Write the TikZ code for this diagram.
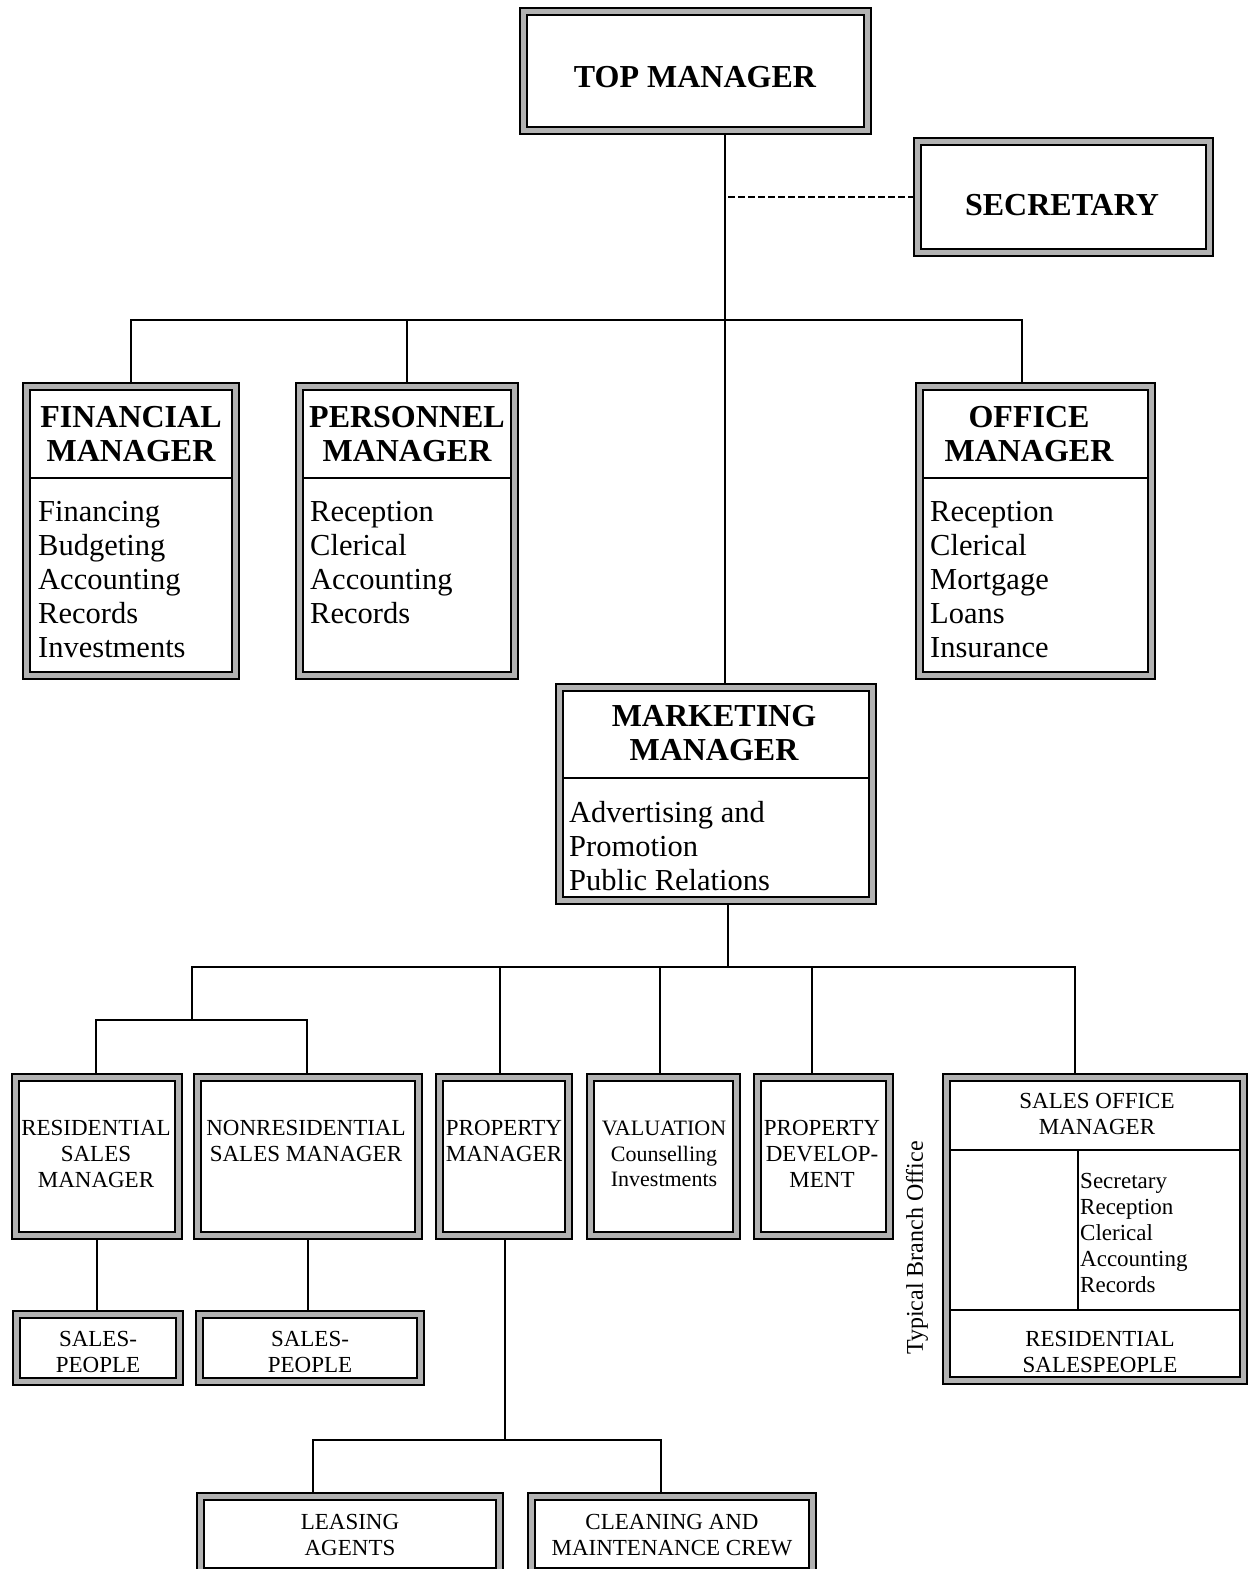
\documentclass[tikz,border=0pt]{standalone}
\usepackage{fontspec}
\setmainfont{Liberation Serif}
\usetikzlibrary{backgrounds}

% font sizes (1pt of the picture is one pixel)
\newcommand\hdfont{\fontsize{32}{34}\selectfont\bfseries}
\newcommand\bdfont{\fontsize{30.5}{34}\selectfont}
\newcommand\smfont{\fontsize{23}{25.8}\selectfont}

% framed box given by its outer corners: name, x1, y1, x2, y2
\newcommand\orgbox[5]{%
  \node[frame, minimum width={(#4-#2-9.1)*1pt}, minimum height={(#5-#3-9.1)*1pt}]
    (#1) at ({(#2+#4)/2},{(#3+#5)/2}) {};}

\tikzset{
  frame/.style={draw=black, line width=1.8pt, double=gray!60, double distance=5.5pt,
                fill=white, inner sep=0pt, outer sep=0pt},
  hd/.style={font=\hdfont, align=center, inner sep=0pt},
  bd/.style={font=\bdfont, align=left, inner sep=0pt, anchor=west},
  sm/.style={font=\smfont, align=center, inner sep=0pt},
  conn/.style={line width=1.8pt, line cap=rect},
  dashline/.style={line width=1.4pt, dash pattern=on 7pt off 3pt},
  divider/.style={line width=1.8pt, shorten <=4.5pt, shorten >=4.5pt},
}

\begin{document}
\begin{tikzpicture}[x=1pt,y=-1pt]
\useasboundingbox (0,0) rectangle (1250,1569);
\clip (0,0) rectangle (1250,1569);
\begin{scope}[on background layer]
  \fill[white] (0,0) rectangle (1250,1569);
\end{scope}

% frames
\orgbox{top}{519}{7}{872}{135}
\orgbox{sec}{913}{137}{1214}{257}
\orgbox{fin}{22}{382}{240}{680}
\orgbox{per}{295}{382}{519}{680}
\orgbox{off}{915}{382}{1156}{680}
\orgbox{mkt}{555}{683}{877}{905}
\orgbox{rsm}{11}{1073}{183}{1240}
\orgbox{nsm}{193}{1073}{423}{1240}
\orgbox{pmg}{435}{1073}{573}{1240}
\orgbox{val}{586}{1073}{741}{1240}
\orgbox{dev}{753}{1073}{894}{1240}
\orgbox{sof}{942}{1073}{1248}{1385}
\orgbox{sp1}{12}{1310}{184}{1386}
\orgbox{sp2}{195}{1310}{425}{1386}
\orgbox{lea}{196}{1492}{504}{1576}
\orgbox{cle}{527}{1492}{817}{1576}

% dividers inside the frames
\coordinate (hf) at (0,478);
\coordinate (hm) at (0,778);
\coordinate (hs1) at (0,1150);
\coordinate (hs2) at (0,1310);
\coordinate (vs) at (1078,0);
\draw[divider] (fin.west |- hf) -- (fin.east |- hf);
\draw[divider] (per.west |- hf) -- (per.east |- hf);
\draw[divider] (off.west |- hf) -- (off.east |- hf);
\draw[divider] (mkt.west |- hm) -- (mkt.east |- hm);
\draw[divider] (sof.west |- hs1) -- (sof.east |- hs1);
\draw[divider] (sof.west |- hs2) -- (sof.east |- hs2);
\draw[line width=1.8pt] (vs |- hs1) -- (vs |- hs2);

% texts
\node[hd] (topT) at (695,77) {TOP MANAGER};
\node[hd] (secT) at (1062,205) {SECRETARY};
\node[hd] (finH) at (131,434) {FINANCIAL\\MANAGER};
\node[bd] (finB) at (38,580) {Financing\\Budgeting\\Accounting\\Records\\Investments};
\node[hd] (perH) at (407,434) {PERSONNEL\\MANAGER};
\node[bd] (perB) at (310,563) {Reception\\Clerical\\Accounting\\Records};
\node[hd] (offH) at (1029,434) {OFFICE\\MANAGER};
\node[bd] (offB) at (930,580) {Reception\\Clerical\\Mortgage\\Loans\\Insurance};
\node[hd] (mktH) at (714,733) {MARKETING\\MANAGER};
\node[bd] (mktB) at (569,846) {Advertising and\\Promotion\\Public Relations};

\node[sm] (rsmT) at (96,1154) {RESIDENTIAL\\SALES\\MANAGER};
\node[sm] (nsmT) at (306,1141) {NONRESIDENTIAL\\SALES MANAGER};
\node[sm] (pmgT) at (504,1141) {PROPERTY\\MANAGER};
\node[sm, font=\fontsize{22}{25.8}\selectfont] (valT) at (664,1154) {VALUATION\\Counselling\\Investments};
\node[sm] (devT) at (822,1154) {PROPERTY\\DEVELOP-\\MENT};
\node[sm] (sofT) at (1097,1114) {SALES OFFICE\\MANAGER};
\node[sm, align=left, anchor=west] (sofB) at (1080,1233) {Secretary\\Reception\\Clerical\\Accounting\\Records};
\node[sm] (sofR) at (1100,1352) {RESIDENTIAL\\SALESPEOPLE};
\node[sm] (sp1T) at (98,1352) {SALES-\\PEOPLE};
\node[sm] (sp2T) at (310,1352) {SALES-\\PEOPLE};
\node[sm] (leaT) at (350,1535) {LEASING\\AGENTS};
\node[sm] (cleT) at (672,1535) {CLEANING AND\\MAINTENANCE CREW};
\node[sm, font=\fontsize{24}{26}\selectfont, rotate=90] (branch) at (917,1248) {Typical Branch Office};

% connectors, kept behind the frames
\begin{scope}[on background layer]
  \coordinate (j1) at (725,320);
  \coordinate (ox) at (1022,320);
  \coordinate (dsh) at (728,197);
  \draw[conn] (top.south -| j1) -- (mkt.north -| j1);
  \draw[conn] (fin.north) |- (ox) -- (ox |- off.north);
  \draw[conn] (per.north) -- (per.north |- j1);
  \draw[dashline] (dsh) -- (sec.west |- dsh);

  \coordinate (j2) at (728,967);
  \coordinate (bA) at (192,967);
  \coordinate (bF) at (1075,967);
  \coordinate (b3) at (500,967);
  \coordinate (b4) at (660,967);
  \coordinate (b5) at (812,967);
  \coordinate (s1) at (192,1020);
  \coordinate (s1L) at (96,1020);
  \coordinate (s1R) at (307,1020);
  \draw[conn] (mkt.south -| j2) -- (j2);
  \draw[conn] (bA) -- (bF) -- (bF |- sof.north);
  \draw[conn] (bA) -- (s1);
  \draw[conn] (s1L |- rsm.north) -- (s1L) -- (s1R) -- (s1R |- nsm.north);
  \draw[conn] (b3) -- (b3 |- pmg.north);
  \draw[conn] (b4) -- (b4 |- val.north);
  \draw[conn] (b5) -- (b5 |- dev.north);

  \draw[conn] (rsm.south) -- (rsm.south |- sp1.north);
  \draw[conn] (nsm.south) -- (nsm.south |- sp2.north);

  \coordinate (p1) at (505,1440);
  \coordinate (pL) at (313,1440);
  \coordinate (pR) at (661,1440);
  \draw[conn] (pmg.south -| p1) -- (p1);
  \draw[conn] (pL |- lea.north) -- (pL) -- (pR) -- (pR |- cle.north);
\end{scope}
\end{tikzpicture}
\end{document}
